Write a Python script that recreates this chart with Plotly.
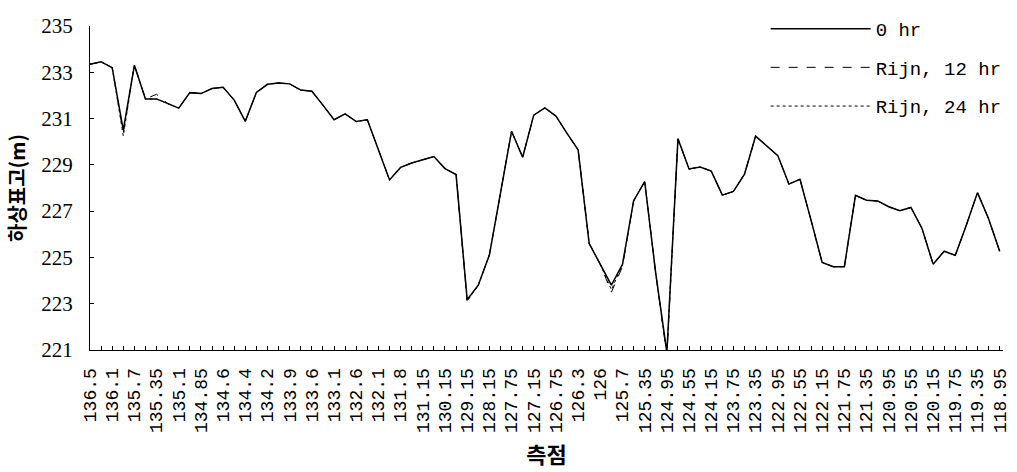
import plotly.graph_objects as go

# Stations (측점), 83 categories; every other one is labelled on the axis
categories = [
    "136.5", "136.3", "136.1", "135.9", "135.7", "135.5", "135.35", "135.2", "135.1", "134.95",
    "134.85", "134.7", "134.6", "134.5", "134.4", "134.3", "134.2", "134.05", "133.9", "133.75",
    "133.6", "133.35", "133.1", "132.85", "132.6", "132.35", "132.1", "131.95", "131.8", "131.45",
    "131.15", "130.65", "130.15", "129.65", "129.15", "128.65", "128.15", "127.95", "127.75", "127.45",
    "127.15", "126.95", "126.75", "126.5", "126.3", "126.15", "126", "125.85", "125.7", "125.5",
    "125.35", "125.15", "124.95", "124.75", "124.55", "124.35", "124.15", "123.95", "123.75", "123.55",
    "123.35", "123.15", "122.95", "122.75", "122.55", "122.35", "122.15", "121.95", "121.75", "121.55",
    "121.35", "121.15", "120.95", "120.75", "120.55", "120.35", "120.15", "119.95", "119.75", "119.55",
    "119.35", "119.15", "118.95",
]

bed_0hr = [
    233.35, 233.45, 233.2, 230.5, 233.3, 231.85, 231.85, 231.65, 231.45, 232.12,
    232.08, 232.3, 232.35, 231.8, 230.88, 232.13, 232.48, 232.54, 232.5, 232.23,
    232.18, 231.58, 230.95, 231.2, 230.87, 230.95, 229.68, 228.35, 228.89, 229.08,
    229.22, 229.36, 228.84, 228.58, 223.17, 223.8, 225.1, 227.8, 230.45, 229.33,
    231.15, 231.46, 231.11, 230.36, 229.65, 225.6, 224.7, 223.8, 224.7, 227.44,
    228.28, 224.3, 220.9, 230.13, 228.82, 228.91, 228.73, 227.69, 227.85, 228.6,
    230.24, 229.83, 229.4, 228.17, 228.38, 226.6, 224.78, 224.6, 224.6, 227.68,
    227.47, 227.44, 227.19, 227.02, 227.16, 226.25, 224.71, 225.27, 225.09, 226.4,
    227.8, 226.67, 225.27,
]

bed_rijn_12hr = [
    233.35, 233.45, 233.2, 230.4, 233.3, 231.85, 232.05, 231.65, 231.45, 232.12,
    232.08, 232.3, 232.35, 231.8, 230.88, 232.13, 232.48, 232.54, 232.5, 232.23,
    232.18, 231.58, 230.95, 231.2, 230.87, 230.95, 229.68, 228.35, 228.89, 229.08,
    229.22, 229.36, 228.84, 228.58, 223.15, 223.8, 225.1, 227.8, 230.45, 229.33,
    231.15, 231.46, 231.11, 230.36, 229.65, 225.6, 224.7, 223.5, 224.6, 227.44,
    228.28, 224.3, 220.75, 230.13, 228.82, 228.91, 228.73, 227.69, 227.85, 228.6,
    230.24, 229.83, 229.4, 228.17, 228.38, 226.6, 224.78, 224.6, 224.6, 227.68,
    227.47, 227.44, 227.19, 227.02, 227.16, 226.25, 224.71, 225.27, 225.09, 226.4,
    227.8, 226.67, 225.27,
]

bed_rijn_24hr = [
    233.35, 233.45, 233.2, 230.25, 233.3, 231.85, 231.85, 231.65, 231.45, 232.12,
    232.08, 232.3, 232.35, 231.8, 230.88, 232.13, 232.48, 232.54, 232.5, 232.23,
    232.18, 231.58, 230.95, 231.2, 230.87, 230.95, 229.68, 228.35, 228.89, 229.08,
    229.22, 229.36, 228.84, 228.58, 223.1, 223.8, 225.1, 227.8, 230.45, 229.33,
    231.15, 231.46, 231.11, 230.36, 229.65, 225.6, 224.7, 223.6, 224.7, 227.44,
    228.28, 224.3, 220.8, 230.13, 228.82, 228.91, 228.73, 227.69, 227.85, 228.6,
    230.24, 229.83, 229.4, 228.17, 228.38, 226.6, 224.78, 224.6, 224.6, 227.68,
    227.47, 227.44, 227.19, 227.02, 227.16, 226.25, 224.71, 225.27, 225.09, 226.4,
    227.8, 226.67, 225.27,
]

series_names = ["0 hr", "Rijn, 12 hr", "Rijn, 24 hr"]
y_ticks = [221, 223, 225, 227, 229, 231, 233, 235]
x_ticktext = [c if i % 2 == 0 else "" for i, c in enumerate(categories)]

fig = go.Figure()
styles = [("solid", 1.5), ("dash", 1.0), ("dot", 1.0)]
for name, ys, (dash, w) in zip(series_names, [bed_0hr, bed_rijn_12hr, bed_rijn_24hr], styles):
    fig.add_trace(go.Scatter(
        x=categories, y=ys, mode="lines", name=name, legendgroup=name,
        line=dict(color="black", width=w, dash=dash),
    ))

fig.update_layout(
    width=1017, height=472,
    margin=dict(l=90, r=10, t=17, b=122),
    paper_bgcolor="white", plot_bgcolor="white",
    showlegend=True,
    legend=dict(
        x=1.004, xanchor="right", y=1.05, yanchor="top",
        font=dict(family="Liberation Mono", size=19, color="black"),
        bgcolor="rgba(0,0,0,0)", itemwidth=100, tracegroupgap=11,
    ),
)

fig.update_xaxes(
    type="category", categoryorder="array", categoryarray=categories,
    range=[0, 82.3],
    tickmode="array", tickvals=categories, ticktext=x_ticktext,
    tickangle=-90, ticks="inside", ticklen=4, tickcolor="black",
    tickfont=dict(family="Liberation Mono", size=18, color="black"),
    ticklabelstandoff=10,
    showline=True, linecolor="black", linewidth=1, showgrid=False, zeroline=False,
    title=dict(text="측점", font=dict(family="Noto Sans CJK KR", size=22, color="black", weight="bold"), standoff=15),
    automargin=False,
)

fig.update_yaxes(
    range=[221, 235], tickmode="array", tickvals=y_ticks,
    ticks="inside", ticklen=4, tickcolor="black",
    tickfont=dict(family="Liberation Serif", size=21, color="black"),
    ticklabelstandoff=12,
    showline=True, linecolor="black", linewidth=1, showgrid=False, zeroline=False,
    title=dict(text="하상표고(m)", font=dict(family="Noto Sans CJK KR", size=20, color="black", weight="bold"), standoff=10),
    automargin=False,
)

fig.write_html("out.html", config={"displayModeBar": False},
               post_script="document.body.style.margin='0';")
